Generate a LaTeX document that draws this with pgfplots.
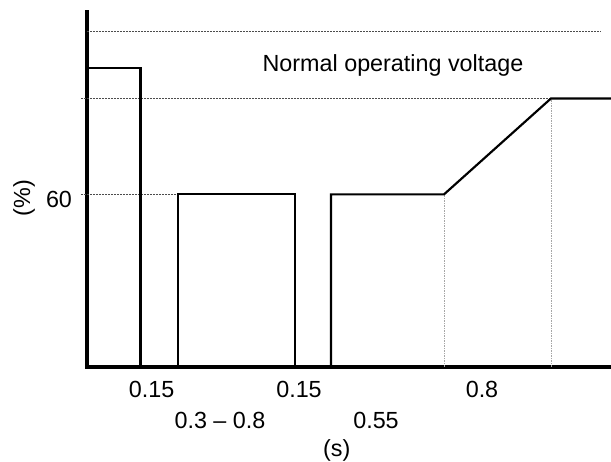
\documentclass[border=0pt]{standalone}
\usepackage{fontspec}
\setmainfont{Liberation Sans}
\usepackage{pgfplots}
\pgfplotsset{compat=1.18}

% 1 px of the reference = 0.6pt
\begin{document}
\fontsize{14}{16.8}\selectfont
\begin{tikzpicture}
\begin{axis}[
    scale only axis,
    width=314.4pt, height=213pt,
    xmin=0, xmax=524, ymin=0, ymax=123.6,
    axis lines=left,
    axis line style={-, line width=2.2pt, line cap=rect},
    clip=false,
    major tick length=0pt,
    xtick={64.7,212,395},
    xticklabels={0.15,0.15,0.8},
    xticklabel style={anchor=base, yshift=-18.6pt},
    extra x ticks={133,289},
    extra x tick labels={0.3 -- 0.8,0.55},
    extra x tick style={xticklabel style={yshift=-18.6pt}},
    ytick={60},
    yticklabels={60},
    yticklabel style={anchor=center, xshift=-16.8pt, yshift=-3pt},
]

% reference levels (dotted)
\addplot[black!70, line width=0.6pt, dash pattern=on 1.2pt off 0.6pt] coordinates {(0,116.6) (514,116.6)};
\addplot[black!70, line width=0.6pt, dash pattern=on 1.2pt off 0.6pt] coordinates {(-6,93.4) (464,93.4)};
\addplot[black!70, line width=0.6pt, dash pattern=on 1.2pt off 0.6pt] coordinates {(-6,60) (90.7,60)};
\addplot[gray!70, line width=0.5pt, dash pattern=on 1pt off 0.5pt] coordinates {(357,0) (357,60)};
\addplot[gray!70, line width=0.5pt, dash pattern=on 1pt off 0.5pt] coordinates {(464,0) (464,93.4)};

% voltage profile
\addplot[black, line width=1.3pt] coordinates {(0,103.9) (53.5,103.9) (53.5,0)};
\addplot[black, line width=1.3pt] coordinates {(90.7,0) (90.7,60) (208,60) (208,0)};
\addplot[black, line width=1.3pt] coordinates {(244,0) (244,60) (357,60) (464,93.4) (524,93.4)};

\node[anchor=base] at (axis cs:306,102.7) {Normal operating voltage};
\node[anchor=base] at (axis cs:249.7,-31.1) {(s)};
\node[rotate=90] at (axis cs:-63,58.7) {(\%)};
\end{axis}
\pgfresetboundingbox
\path (-52.2pt,-56.58pt) rectangle (314.4pt,220.02pt);
\end{tikzpicture}
\end{document}
